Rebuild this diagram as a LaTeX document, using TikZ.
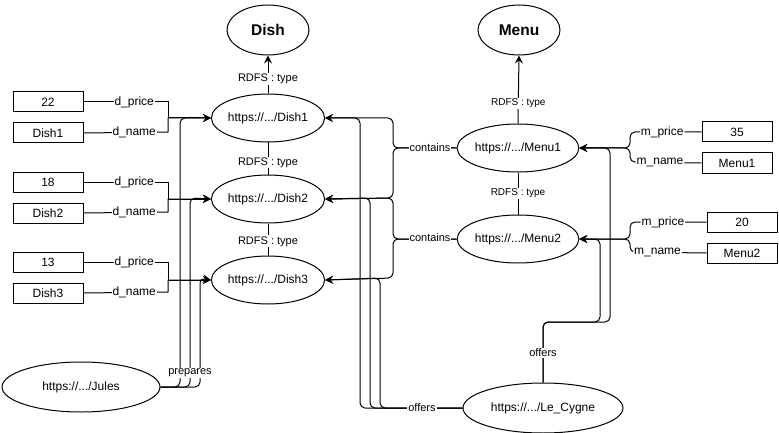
\documentclass[tikz,border=0pt]{standalone}
\usepackage{fontspec}
\setmainfont{Liberation Sans}
\usetikzlibrary{arrows.meta, positioning, shapes.geometric}
\tikzset{
  mnarrow/.style={-{Stealth[length=8pt, width=8pt, inset=3pt]}, line width=1pt},
  mnline/.style={line width=1pt},
  mnentity/.style={ellipse, draw, line width=1pt, minimum width=110pt, minimum height=48pt, inner sep=0pt, font=\fontsize{12}{14}\selectfont},
  mnclass/.style={mnentity, minimum width=82pt, minimum height=50pt, font=\fontsize{15.5}{18}\selectfont\bfseries},
  mnlit/.style={rectangle, draw, line width=1pt, minimum width=70pt, minimum height=20pt, inner sep=0pt, font=\fontsize{12}{14}\selectfont},
  mnlabel/.style={fill=white, inner sep=1pt, font=\fontsize{11}{13}\selectfont},
  mnsmall/.style={mnlabel, font=\fontsize{10}{12}\selectfont},
  mnattr/.style={mnlabel, font=\fontsize{12}{14}\selectfont},
}

\begin{document}
\begin{tikzpicture}[x=1pt, y=-1pt]
  \useasboundingbox (0,0) rectangle (779,433);

  % Classes.
  \node[mnclass] (dish_cls) at (268,30) {Dish};
  \node[mnclass] (menu_cls) at (519,30) {Menu};

  % Dish resources.
  \node[mnentity] (dish1) at (268,118) {https://.../Dish1};
  \node[mnentity, below=32pt of dish1] (dish2) {https://.../Dish2};
  \node[mnentity, below=32pt of dish2] (dish3) {https://.../Dish3};

  % Menu resources.
  \node[mnentity] (menu1) at (518,148) {https://.../Menu1};
  \node[mnentity, below=42pt of menu1] (menu2) {https://.../Menu2};

  % Chef and restaurant.
  \node[mnentity, minimum width=158pt, minimum height=50pt] (jules) at (81,387) {https://.../Jules};
  \node[mnentity, minimum width=160pt, minimum height=50pt] (cygne) at (543,408) {https://.../Le\_Cygne};

  % Literals of the dishes.
  \node[mnlit] (price1) at (48,102) {22};
  \node[mnlit, below=10pt of price1] (name1) {Dish1};
  \node[mnlit] (price2) at (48,182) {18};
  \node[mnlit, below=10pt of price2] (name2) {Dish2};
  \node[mnlit] (price3) at (48,262) {13};
  \node[mnlit, below=10pt of price3] (name3) {Dish3};

  % Literals of the menus.
  \node[mnlit] (mprice1) at (737,132) {35};
  \node[mnlit, below=10pt of mprice1] (mname1) {Menu1};
  \node[mnlit] (mprice2) at (742,222) {20};
  \node[mnlit, below=10pt of mprice2] (mname2) {Menu2};

  % Dish attributes.
  \draw[mnarrow] (price1.east) -- node[mnattr, pos=0.6] {d\_price} (168,102) |- (dish1.west);
  \draw[mnarrow] (name1.east) -- node[mnattr, pos=0.6] {d\_name} (168,132) |- (dish1.west);
  \draw[mnarrow] (price2.east) -- node[mnattr, pos=0.6] {d\_price} (168,182) |- (dish2.west);
  \draw[mnarrow] (name2.east) -- node[mnattr, pos=0.6] {d\_name} (168,212) |- (dish2.west);
  \draw[mnarrow] (price3.east) -- node[mnattr, pos=0.6] {d\_price} (168,262) |- (dish3.west);
  \draw[mnarrow] (name3.east) -- node[mnattr, pos=0.6] {d\_name} (168,292) |- (dish3.west);

  % Menu attributes.
  \draw[mnarrow, rounded corners=5pt] (mprice1.west) -- node[mnattr, pos=0.55] {m\_price} (630,132) |- (menu1.east);
  \draw[mnarrow, rounded corners=5pt] (mname1.west) -- node[mnattr, pos=0.58] {m\_name} (630,162) |- (menu1.east);
  \draw[mnarrow, rounded corners=5pt] (mprice2.west) -- node[mnattr, pos=0.57] {m\_price} (630,222) |- (menu2.east);
  \draw[mnarrow, rounded corners=5pt] (mname2.west) -- node[mnattr, pos=0.64] {m\_name} (630,252) |- (menu2.east);

  % Types.
  \draw[mnarrow] (dish1.north) -- node[mnlabel, pos=0.38] {RDFS : type} (dish_cls.south);
  \draw[mnline] (dish2.north) -- node[mnlabel, pos=0.375] {RDFS : type} (dish1.south);
  \draw[mnline] (dish3.north) -- node[mnlabel, pos=0.44] {RDFS : type} (dish2.south);
  \draw[mnarrow] (menu1.north) -- node[mnsmall, pos=0.3] {RDFS : type} (menu_cls.south);
  \draw[mnline] (menu2.north) -- node[mnsmall, pos=0.5] {RDFS : type} (menu1.south);

  % Menus contain dishes.
  \draw[mnarrow, rounded corners=5pt] (menu1.west) -| (393,118) -- (dish1.east);
  \draw[mnarrow, rounded corners=5pt] (menu1.west) -| (393,198) -- (dish2.east);
  \draw[mnarrow, rounded corners=5pt] (menu2.west) -| (393,198) -- (dish2.east);
  \draw[mnarrow, rounded corners=5pt] (menu2.west) -| (393,278) -- (dish3.east);
  \node[mnlabel] (cont1) at (430,148) {contains};
  \node[mnlabel] (cont2) at (430,238) {contains};

  % The chef prepares the dishes.
  \draw[mnarrow, rounded corners=5pt] (jules.east) -| (180,118) -- (dish1.west);
  \draw[mnarrow, rounded corners=5pt] (jules.east) -| (190,198) -- (dish2.west);
  \draw[mnarrow, rounded corners=5pt] (jules.east) -| (200,278) -- (dish3.west);
  \node[mnlabel] (prep) at (190,373) {prepares};

  % The restaurant offers dishes and menus.
  \draw[mnarrow, rounded corners=5pt] (cygne.west) -| (360,118) -- (dish1.east);
  \draw[mnarrow, rounded corners=5pt] (cygne.west) -| (370,198) -- (dish2.east);
  \draw[mnarrow, rounded corners=5pt] (cygne.west) -| (380,278) -- (dish3.east);
  \node[mnlabel] (offd) at (422,408) {offers};
  \draw[mnarrow, rounded corners=5pt] (cygne.north) |- (610,322) |- (menu1.east);
  \draw[mnarrow, rounded corners=5pt] (cygne.north) |- (600,322) |- (menu2.east);
  \node[mnlabel] (offm) at (543,353) {offers};
\end{tikzpicture}
\end{document}
